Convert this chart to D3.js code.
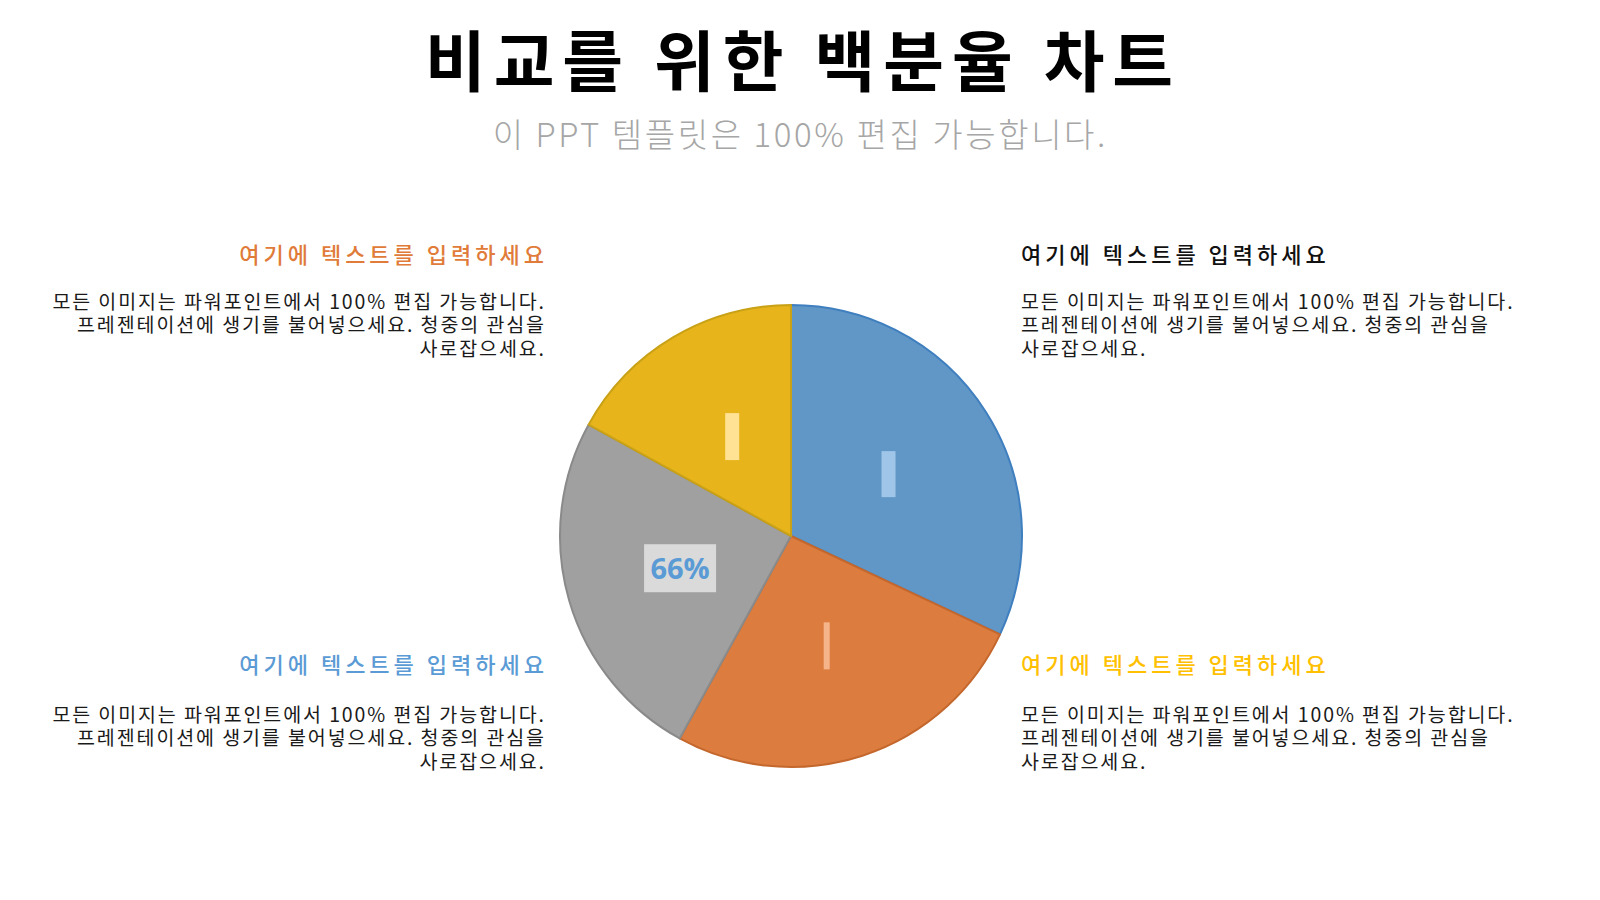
<!DOCTYPE html>
<html>
<head>
<meta charset="utf-8">
<script src="https://cdn.jsdelivr.net/npm/d3@7"></script>
<style>
  html, body { margin: 0; padding: 0; background: #ffffff; }
  #wrap { position: relative; width: 1600px; height: 900px; }
  svg { display: block; position: absolute; left: 0; top: 0; }
  .body-text { position: absolute; white-space: pre; margin: 0; }
</style>
</head>
<body>
<div id="wrap"><svg id="chart" width="1600" height="900"></svg></div>
<script>
// ---- data ----
const categories = ["A", "B", "C", "D"];
const values = [32, 26, 25, 17];
const sliceLabels = ["", "", "66%", ""];
const titleText = "비교를 위한 백분율 차트";
const subtitleText = "이 PPT 템플릿은 100% 편집 가능합니다.";
const headings = ["여기에 텍스트를 입력하세요", "여기에 텍스트를 입력하세요", "여기에 텍스트를 입력하세요", "여기에 텍스트를 입력하세요"];
const bodyLines = ["모든 이미지는 파워포인트에서 100% 편집 가능합니다.", "프레젠테이션에 생기를 불어넣으세요. 청중의 관심을", "사로잡으세요."];

// ---- styles ----
const fills = ["#6197c6", "#dc7d3f", "#a0a0a0", "#e7b41b"];
const strokes = ["#3f7fbf", "#c4672d", "#8a8a8a", "#c9a116"];
const markerFills = ["#9fc5e8", "#f5b48a", "#dadada", "#ffe293"];
const markerW = [14, 6, 72, 14];
const markerH = [46, 47, 48, 47];
const headingColors = ["#e07b39", "#111111", "#5b9bd5", "#ffc000"];

const svg = d3.select("#chart");
const wrap = d3.select("#wrap");
const font = "'Noto Sans CJK KR', 'Noto Sans', sans-serif";

// Title
const tLS = 8;
svg.append("text")
  .attr("x", 799 + tLS / 2).attr("y", 86)
  .attr("text-anchor", "middle")
  .attr("font-family", font).attr("font-weight", 700)
  .attr("font-size", 66).attr("letter-spacing", tLS)
  .attr("fill", "#000")
  .text(titleText);

const sLS = 2.6;
svg.append("text")
  .attr("x", 799 + sLS / 2).attr("y", 147)
  .attr("text-anchor", "middle")
  .attr("font-family", font).attr("font-weight", 300)
  .attr("font-size", 33).attr("letter-spacing", sLS)
  .attr("fill", "#a6a6a6")
  .text(subtitleText);

// Pie
const cx = 791, cy = 536, R = 231;
const pie = d3.pie().sort(null).value(d => d).startAngle(0).endAngle(2 * Math.PI);
const arcs = pie(values);
const arc = d3.arc().innerRadius(0).outerRadius(R);
const g = svg.append("g").attr("transform", `translate(${cx},${cy})`);

g.selectAll("path.slice").data(arcs).enter().append("path")
  .attr("class", "slice")
  .attr("d", arc)
  .attr("fill", (d, i) => fills[i])
  .attr("stroke", (d, i) => strokes[i])
  .attr("stroke-width", 2)
  .attr("stroke-linejoin", "round");

const lab = g.selectAll("g.lab").data(arcs).enter().append("g")
  .attr("class", "lab")
  .attr("transform", d => { const c = arc.centroid(d); return `translate(${c[0]},${c[1]})`; });

lab.append("rect")
  .attr("x", (d, i) => -markerW[i] / 2)
  .attr("y", (d, i) => -markerH[i] / 2)
  .attr("width", (d, i) => markerW[i])
  .attr("height", (d, i) => markerH[i])
  .attr("fill", (d, i) => markerFills[i]);

lab.append("text")
  .attr("text-anchor", "middle")
  .attr("dy", 11)
  .attr("font-family", "'Open Sans', 'Noto Sans', sans-serif")
  .attr("font-weight", 700)
  .attr("font-size", 29)
  .attr("fill", "#5b9bd5")
  .text((d, i) => sliceLabels[i]);

// Text blocks
const hLS = 4, bLS = 1.9, bFS = 19.5, bLH = 23.5;
const baseOffset = (bLH - bFS * 1.448) / 2 + bFS * 1.16; // first baseline offset from div top
const blocks = [
  { x: 544, anchor: "end", hy: 263, by: 309 },
  { x: 1021, anchor: "start", hy: 263, by: 309 },
  { x: 544, anchor: "end", hy: 673, by: 722 },
  { x: 1021, anchor: "start", hy: 673, by: 722 }
];
blocks.forEach((b, i) => {
  const isEnd = b.anchor === "end";
  svg.append("text")
    .attr("x", b.x + (isEnd ? hLS : 0)).attr("y", b.hy)
    .attr("text-anchor", b.anchor)
    .attr("font-family", font).attr("font-weight", 500)
    .attr("font-size", 22).attr("letter-spacing", hLS)
    .attr("fill", headingColors[i])
    .text(headings[i]);
  const div = wrap.append("div")
    .attr("class", "body-text")
    .style("font-family", font)
    .style("font-size", bFS + "px")
    .style("line-height", bLH + "px")
    .style("letter-spacing", bLS + "px")
    .style("color", "#1a1a1a")
    .style("top", (b.by - baseOffset) + "px")
    .style("text-align", isEnd ? "right" : "left")
    .text(bodyLines.join("\n"));
  if (isEnd) div.style("right", (1600 - b.x - bLS) + "px");
  else div.style("left", b.x + "px");
});
</script>
</body>
</html>
